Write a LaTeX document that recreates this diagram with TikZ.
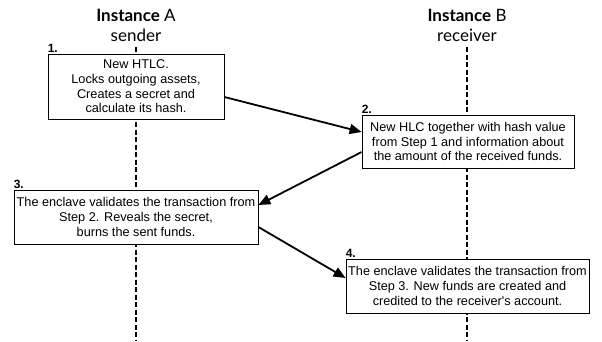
\documentclass[tikz,border=0pt]{standalone}
\usepackage{fontspec}
\setmainfont{Liberation Sans}
\newfontfamily\titlefont{Lato}
\usetikzlibrary{arrows.meta}
\begin{document}
\begin{tikzpicture}[x=1pt,y=-1pt,
  stepbox/.style={draw,line width=0.8pt,fill=white,inner sep=0pt,align=center,
    font=\fontsize{12.7}{14.6}\selectfont},
  steplabel/.style={anchor=south west,inner sep=0pt,font=\fontsize{12}{13}\selectfont\bfseries,yshift=1pt},
  lifeline/.style={line width=1.8pt,dash pattern=on 5pt off 2.5pt},
  msg/.style={line width=1.8pt,-{Triangle[length=12pt,width=10pt]}},
  title/.style={font=\titlefont\fontsize{17}{20}\selectfont,align=center,inner sep=0pt}]
\useasboundingbox (0,0) rectangle (602,341);
\node[title] (ta) at (136,15) {\textbf{Instance} A};
\node[title] (sa) at (136,35) {sender};
\node[title] (tb) at (467,15) {\textbf{Instance} B};
\node[title] (sb) at (467,35) {receiver};
\coordinate (la0) at (136,47);
\coordinate (la1) at (136,341);
\coordinate (lb0) at (467,47);
\coordinate (lb1) at (467,341);
\draw[lifeline] (la0) -- (la1);
\draw[lifeline] (lb0) -- (lb1);
\node[stepbox,minimum width=176pt,minimum height=65pt] (b1) at (136,86.5)
  {New HTLC.\\Locks outgoing assets,\\Creates a secret and\\calculate its hash.};
\node[stepbox,minimum width=212pt,minimum height=53pt] (b2) at (468,141.5)
  {New HLC together with hash value\\from Step 1 and information about\\the amount of the received funds.};
\node[stepbox,minimum width=244pt,minimum height=54pt] (b3) at (136,217)
  {The enclave validates the transaction from\\Step 2. Reveals the secret,\\burns the sent funds.};
\node[stepbox,minimum width=243pt,minimum height=54pt] (b4) at (467.5,286)
  {The enclave validates the transaction from\\Step 3. New funds are created and\\credited to the receiver\textquotesingle s account.};
\node[steplabel] (n1) at (b1.north west) {1.};
\node[steplabel] (n2) at (b2.north west) {2.};
\node[steplabel] (n3) at (b3.north west) {3.};
\node[steplabel] (n4) at (b4.north west) {4.};
\draw[msg] ([yshift=-10.5pt]b1.east) -- ([yshift=9.5pt]b2.west);
\draw[msg] ([yshift=-10.5pt]b2.west) -- ([yshift=12pt]b3.east);
\draw[msg] ([yshift=-10pt]b3.east) -- ([yshift=8pt]b4.west);
\end{tikzpicture}
\end{document}
